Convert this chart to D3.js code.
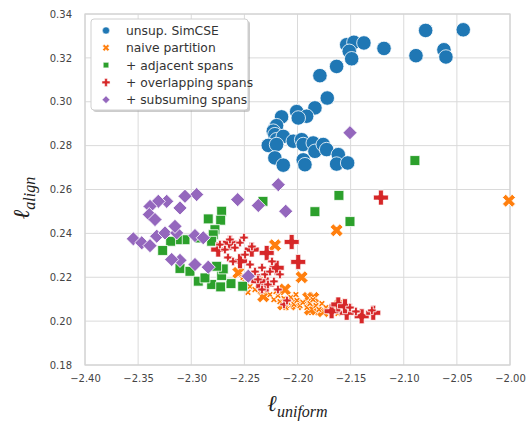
<!DOCTYPE html>
<html>
<head>
<meta charset="utf-8">
<script src="https://cdn.jsdelivr.net/npm/d3@7"></script>
<style>
body { margin:0; background:white; }
text { font-family: "DejaVu Sans", sans-serif; }
.tick text { fill:#444; font-size:10px; }
.math { font-family: "Liberation Serif", "DejaVu Serif", serif; font-style: italic; fill:#222; }
</style>
</head>
<body>
<svg id="chart" width="529" height="422"></svg>
<script>
// values: [l_uniform, l_align]
var simcse = [[-2.0794,0.3325],[-2.044,0.3328],[-2.1537,0.326],[-2.1469,0.3271],[-2.1375,0.3268],
  [-2.1186,0.3243],[-2.1513,0.323],[-2.149,0.3196],[-2.0885,0.321],[-2.0622,0.3237],[-2.0603,0.3204],
  [-2.1632,0.3161],[-2.1789,0.3119],[-2.172,0.3017],[-2.1836,0.2972],[-2.2008,0.2955],[-2.1914,0.2934],
  [-2.1993,0.2926],[-2.215,0.2931],[-2.2213,0.2881],[-2.2197,0.2891],[-2.2228,0.2866],[-2.2213,0.285],
  [-2.2197,0.2827],[-2.2134,0.2842],[-2.2275,0.2801],[-2.2197,0.2805],[-2.204,0.282],[-2.1961,0.2827],
  [-2.1946,0.2805],[-2.1852,0.2812],[-2.1836,0.2774],[-2.1758,0.2805],[-2.1726,0.2782],[-2.2213,0.2744],
  [-2.2134,0.2711],[-2.1946,0.2735],[-2.193,0.2713],[-2.1616,0.2759],[-2.1632,0.2716],[-2.1528,0.2721]];

var naive = [[-2.001,0.2549],[-2.1632,0.2414],[-2.2212,0.2346],[-2.1961,0.22],[-2.2557,0.222],
  [-2.2322,0.2113],[-2.2118,0.2144],[-2.2024,0.2083],[-2.1867,0.206],[-2.1899,0.2106],[-2.1852,0.2053],
  [-2.1758,0.2045],[-2.16,0.2076],[-2.2008,0.2076],[-2.1883,0.2053],[-2.1852,0.2106],[-2.2134,0.2076]];
var naiveSmall = [[-2.2494,0.2176],[-2.2447,0.2158],[-2.24,0.2144],[-2.2372,0.2167],[-2.2334,0.2135],
  [-2.2297,0.2149],[-2.2259,0.2121],[-2.2222,0.2098],[-2.2184,0.2117],[-2.2165,0.2089],[-2.2127,0.2103],
  [-2.209,0.2085],[-2.2062,0.2108],[-2.2033,0.2076],[-2.2005,0.2094],[-2.1977,0.2071],[-2.1949,0.2085],
  [-2.1911,0.2062],[-2.1883,0.208],[-2.1854,0.2098],[-2.1826,0.2071],[-2.1798,0.2053],[-2.177,0.208],
  [-2.1732,0.2062],[-2.1695,0.2044],[-2.1657,0.2058],[-2.1619,0.2035],[-2.2353,0.219],[-2.2278,0.2176],
  [-2.2513,0.2199],[-2.2466,0.2131],[-2.2203,0.2135],[-2.2109,0.2062],[-2.2015,0.2121]];

var adjacent = [[-2.0895,0.2732],[-2.161,0.2573],[-2.1506,0.2454],[-2.1836,0.2499],[-2.2325,0.2546],
  [-2.284,0.2466],[-2.2714,0.2501],[-2.2723,0.246],[-2.2777,0.2417],[-2.2793,0.2394],[-2.2808,0.2364],
  [-2.2918,0.2379],[-2.3059,0.2371],[-2.3131,0.2371],[-2.3194,0.2364],[-2.3269,0.2322],[-2.3106,0.224],
  [-2.3012,0.2227],[-2.2934,0.2182],[-2.2808,0.2167],[-2.2723,0.2156],[-2.2626,0.2171],[-2.2516,0.2159],
  [-2.2714,0.2208],[-2.2699,0.2238],[-2.2871,0.2197],[-2.2761,0.225]];

var overlapping = [[-2.1215,0.2563],[-2.2055,0.2361],[-2.1993,0.227],[-2.2746,0.2326],[-2.2431,0.2326],
  [-2.2541,0.2273],[-2.229,0.2311],[-2.229,0.2167],[-2.2369,0.2182],[-2.2196,0.2243],[-2.2636,0.2357],
  [-2.1679,0.2045],[-2.1537,0.2038],[-2.1396,0.2022],[-2.1287,0.2038],[-2.1616,0.2076],[-2.1553,0.2068]];
var overlappingSmall = [[-2.273,0.2349],[-2.2683,0.2326],[-2.2589,0.2335],[-2.2541,0.2358],[-2.2494,0.2303],
  [-2.2654,0.229],[-2.2607,0.2272],[-2.2447,0.2258],[-2.24,0.2226],[-2.2334,0.2244],[-2.2306,0.2213],
  [-2.2259,0.2226],[-2.2372,0.219],[-2.2278,0.2167],[-2.2222,0.2181],[-2.2184,0.2144],[-2.2334,0.2144],
  [-2.224,0.2272],[-2.2165,0.2213],[-2.2504,0.2381],[-2.2636,0.2372],[-2.2429,0.234],[-2.2127,0.2076],
  [-2.2099,0.2094],[-2.1506,0.2062],[-2.145,0.2044],[-2.13,0.2049]];

var subsuming = [[-2.1506,0.2859],[-2.2181,0.2622],[-2.2563,0.2554],[-2.2369,0.2527],[-2.2111,0.2501],
  [-2.2949,0.2577],[-2.3059,0.2569],[-2.3106,0.2516],[-2.3231,0.2546],[-2.331,0.2546],[-2.3388,0.2523],
  [-2.3395,0.2486],[-2.3341,0.2463],[-2.3545,0.2375],[-2.3466,0.2357],[-2.3388,0.2344],[-2.3325,0.2387],
  [-2.3247,0.2402],[-2.3137,0.2402],[-2.3153,0.2432],[-2.2965,0.239],[-2.2887,0.238],[-2.3106,0.2277],
  [-2.2965,0.2258],[-2.284,0.2246],[-2.3184,0.2281],[-2.2463,0.2205]];

var legendNames = ["unsup. SimCSE","naive partition","+ adjacent spans","+ overlapping spans","+ subsuming spans"];
var colors = ["#1f77b4","#ff7f0e","#2ca02c","#d62728","#9467bd"];
var xTicks = [-2.40,-2.35,-2.30,-2.25,-2.20,-2.15,-2.10,-2.05,-2.00];
var yTicks = [0.18,0.20,0.22,0.24,0.26,0.28,0.30,0.32,0.34];

var margins = {left:85, right:19, top:14, bottom:57};
var graph = {width:529-margins.left-margins.right, height:422-margins.top-margins.bottom};

var xScale = d3.scaleLinear().domain([-2.40,-2.00]).range([0,graph.width]);
var yScale = d3.scaleLinear().domain([0.18,0.34]).range([graph.height,0]);

var svg = d3.select("#chart");
var plot = svg.append("g")
    .attr("transform","translate("+margins.left+","+margins.top+")");

// grid
plot.append("g").selectAll("line").data(xTicks).enter().append("line")
    .attr("x1",function(d){return xScale(d);}).attr("x2",function(d){return xScale(d);})
    .attr("y1",0).attr("y2",graph.height)
    .attr("stroke","#dadada").attr("stroke-width",1);
plot.append("g").selectAll("line").data(yTicks).enter().append("line")
    .attr("y1",function(d){return yScale(d);}).attr("y2",function(d){return yScale(d);})
    .attr("x1",0).attr("x2",graph.width)
    .attr("stroke","#dadada").attr("stroke-width",1);
plot.append("rect").attr("width",graph.width).attr("height",graph.height)
    .attr("fill","none").attr("stroke","#d3d3d3").attr("stroke-width",1.2);

// axes (labels only, seaborn whitegrid has no tick marks)
var fmtX = function(d){ return d3.format(".2f")(d).replace("-","\u2212"); };
var xAxis = plot.append("g").attr("transform","translate(0,"+graph.height+")")
    .call(d3.axisBottom(xScale).tickValues(xTicks).tickFormat(fmtX).tickSize(0).tickPadding(10));
var yAxis = plot.append("g")
    .call(d3.axisLeft(yScale).tickValues(yTicks).tickFormat(d3.format(".2f")).tickSize(0).tickPadding(13));
xAxis.select(".domain").remove();
yAxis.select(".domain").remove();

// markers
var shapes = [
  {type:d3.symbolCircle, size:165, rot:0},
  {type:d3.symbolCross, size:105, rot:45},
  {type:d3.symbolSquare, size:98, rot:0},
  {type:d3.symbolCross, size:125, rot:0},
  {type:d3.symbolSquare, size:100, rot:45}
];

var drawSeries = function(points, i, size)
{
    var sh = shapes[i];
    var sym = d3.symbol().type(sh.type).size(size);
    plot.append("g").selectAll("path").data(points).enter().append("path")
        .attr("d", sym)
        .attr("transform", function(d){
            return "translate("+xScale(d[0])+","+yScale(d[1])+") rotate("+sh.rot+")";
        })
        .attr("fill", colors[i])
        .attr("stroke","white")
        .attr("stroke-width",0.8);
};

drawSeries(simcse, 0, shapes[0].size);
drawSeries(naive, 1, shapes[1].size);
drawSeries(naiveSmall, 1, 28);
drawSeries(adjacent, 2, shapes[2].size);
drawSeries(overlapping, 3, shapes[3].size);
drawSeries(overlappingSmall, 3, 40);
drawSeries(subsuming, 4, shapes[4].size);

// legend
var legend = svg.append("g").attr("transform","translate(91,19)");
legend.append("rect").attr("x",2).attr("y",2).attr("width",157).attr("height",91).attr("rx",3)
    .attr("fill","#999").attr("opacity",0.5);
legend.append("rect").attr("width",157).attr("height",91).attr("rx",3)
    .attr("fill","white").attr("stroke","#d0d0d0").attr("stroke-width",1);
var rows = legend.selectAll("g.row").data(legendNames).enter().append("g")
    .attr("transform",function(d,i){ return "translate(0,"+(11.5+i*17.3)+")"; });
rows.append("path")
    .attr("d",function(d,i){ return d3.symbol().type(shapes[i].type).size(i==0?40:i==3?36:30)(); })
    .attr("transform",function(d,i){ return "translate(15,0) rotate("+shapes[i].rot+")"; })
    .attr("fill",function(d,i){ return colors[i]; })
    .attr("stroke","white").attr("stroke-width",0.5);
rows.append("text").text(function(d){return d;})
    .attr("x",35).attr("y",4.5)
    .attr("font-size","12.3px").attr("fill","#333");

// axis labels
var xl = svg.append("text").attr("class","math")
    .attr("x",margins.left+graph.width/2).attr("y",411).attr("text-anchor","middle");
xl.append("tspan").text("\u2113").attr("font-size","23px");
xl.append("tspan").text("uniform").attr("font-size","16px").attr("dy",6);

var yl = svg.append("text").attr("class","math")
    .attr("transform","translate(29,198) rotate(-90)").attr("text-anchor","middle");
yl.append("tspan").text("\u2113").attr("font-size","23px");
yl.append("tspan").text("align").attr("font-size","16px").attr("dy",6);
</script>
</body>
</html>
